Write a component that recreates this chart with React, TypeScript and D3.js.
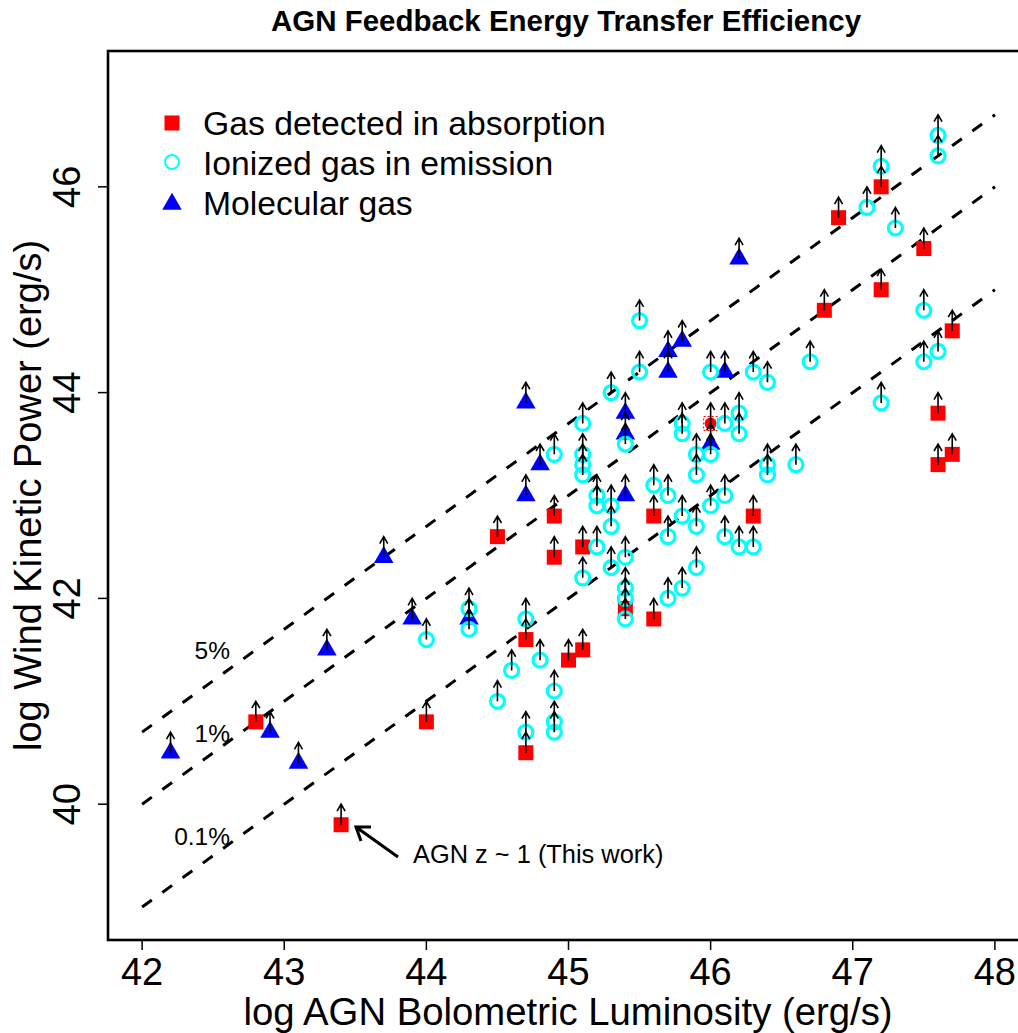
import React from "react";
import * as d3 from "d3";

// ---- Data ----
const absX = [42.8, 43.4, 44.0, 44.5, 44.9, 44.9, 44.7, 44.7, 45.0, 45.1, 45.1, 45.4, 45.6, 45.6, 46.3, 46.8, 46.9, 47.2, 47.2, 47.5, 47.7, 47.6, 47.6, 47.7];
const absY = [40.8, 39.8, 40.8, 42.6, 42.8, 42.4, 41.6, 40.5, 41.4, 41.5, 42.5, 41.9, 41.8, 42.8, 42.8, 44.8, 45.7, 46.0, 45.0, 45.4, 44.6, 43.8, 43.3, 43.4];
const absDotX = [46.0];
const absDotY = [43.7];

const molX = [42.2, 42.9, 43.1, 43.3, 43.7, 43.9, 44.3, 44.7, 44.7, 44.8, 45.4, 45.4, 45.4, 45.7, 45.7, 45.8, 46.1, 46.0, 46.2];
const molY = [40.5, 40.7, 40.4, 41.5, 42.4, 41.8, 41.8, 43.9, 43.0, 43.3, 43.8, 43.6, 43.0, 44.4, 44.2, 44.5, 44.2, 43.5, 45.3];

const ionX = [
  44.0, 44.3, 44.3, 44.7, 44.6, 44.8, 44.5, 44.9, 44.7, 44.9, 44.9,
  45.1, 45.2, 45.3, 45.3, 45.4, 45.4, 45.4, 45.4,
  45.7, 45.8, 45.9, 45.7, 45.9, 45.8, 46.1, 46.2, 46.3,
  45.2, 45.2, 45.3,
  45.5, 45.5, 45.3, 44.9, 45.1, 45.1, 45.1, 45.1, 45.4, 45.6, 45.7, 45.8, 45.8, 45.9, 45.9, 46.0, 46.0, 46.1, 46.1, 46.0, 46.2, 46.2,
  46.3, 46.4, 46.7, 46.4, 46.4, 46.6,
  47.2, 47.5, 47.6, 47.5,
  47.2, 47.1, 47.3, 47.6, 47.6,
];
const ionY = [
  41.6, 41.9, 41.7, 41.8, 41.3, 41.4, 41.0, 41.1, 40.7, 40.8, 40.7,
  42.2, 42.5, 42.7, 42.3, 42.4, 42.1, 42.0, 41.8,
  42.0, 42.1, 42.3, 42.6, 42.7, 42.8, 42.6, 42.5, 42.5,
  43.0, 42.9, 42.9,
  44.7, 44.2, 44.0, 43.4, 43.7, 43.4, 43.3, 43.2, 43.5, 43.1, 43.0, 43.7, 43.6, 43.4, 43.2, 44.2, 43.4, 43.7, 43.0, 42.9, 43.8, 43.6,
  44.2, 44.1, 44.3, 43.3, 43.2, 43.3,
  43.9, 44.3, 44.4, 44.8,
  46.2, 45.8, 45.6, 46.5, 46.3,
];

const xTicks = [42, 43, 44, 45, 46, 47, 48];
const yTicks = [40, 42, 44, 46];
const effLabels = ["5%", "1%", "0.1%"];
const effOffsets = [-1.3, -2, -3]; // log(eff)
const lineX = [42, 48];
const legendLabels = ["Gas detected in absorption", "Ionized gas in emission", "Molecular gas"];
const arrowLen = 0.2; // data units (lower limits)

const FONT = "'Liberation Sans', Arial, Helvetica, sans-serif";
const RED = "#FF0000";
const CYAN = "#00FFFF";
const BLUE = "#0000FF";

const W = 1018;
const H = 1033;
const L = 108, R = 1029, T = 51, B = 940;

function triPath(cx: number, cy: number, s: number) {
  const r = 0.866 * s;
  return `M${cx},${cy - s}L${cx + r},${cy + s / 2}L${cx - r},${cy + s / 2}Z`;
}

export default function App() {
  const x = d3.scaleLinear().domain([41.76, 48.24]).range([L, R]);
  const y = d3.scaleLinear().domain([38.68, 47.32]).range([B, T]);

  const allX = [...absX, ...absDotX, ...molX, ...ionX];
  const allY = [...absY, ...absDotY, ...molY, ...ionY];

  const line = d3.line<number>().x((d) => x(d[0])).y((d) => y(d[1]));

  const headLen = 8;
  const ang = Math.PI / 6;

  return (
    <svg
      width={W}
      height={H}
      style={{ position: "absolute", left: 0, top: 0, background: "#fff" }}
      fontFamily={FONT}
    >
      <rect x={0} y={0} width={W} height={H} fill="#fff" />
      {/* Title */}
      <text x={566} y={31} textAnchor="middle" fontWeight="bold" fontSize={29.5}>
        AGN Feedback Energy Transfer Efficiency
      </text>

      {/* efficiency lines */}
      {effOffsets.map((o, i) => (
        <path
          key={"l" + i}
          d={line(lineX.map((v) => [v, v + o]) as any) || ""}
          stroke="#000"
          strokeWidth={3}
          strokeDasharray="12 13"
          fill="none"
        />
      ))}
      {effLabels.map((t, i) => (
        <text key={"el" + i} x={230} y={[659, 742, 845][i]} textAnchor="end" fontSize={24.5}>
          {t}
        </text>
      ))}

      {/* absorption squares */}
      {absX.map((v, i) => (
        <rect key={"a" + i} x={x(v) - 7.5} y={y(absY[i]) - 7.5} width={15} height={15} fill={RED} />
      ))}
      {absDotX.map((v, i) => (
        <g key={"ad" + i}>
          <rect x={x(v) - 7} y={y(absDotY[i]) - 7} width={14} height={14} fill="none" stroke={RED} strokeWidth={1} strokeDasharray="2 2" />
          <circle cx={x(v)} cy={y(absDotY[i])} r={6} fill={RED} />
        </g>
      ))}
      {/* molecular triangles */}
      {molX.map((v, i) => (
        <path key={"m" + i} d={triPath(x(v), y(molY[i]), 11.3)} fill={BLUE} />
      ))}
      {/* ionized circles */}
      {ionX.map((v, i) => (
        <circle key={"c" + i} cx={x(v)} cy={y(ionY[i])} r={7} fill="none" stroke={CYAN} strokeWidth={3.2} />
      ))}

      {/* lower-limit arrows */}
      {allX.map((v, i) => {
        const x0 = x(v);
        const y0 = y(allY[i]);
        const y1 = y(allY[i] + arrowLen);
        return (
          <path
            key={"ar" + i}
            d={`M${x0},${y0}L${x0},${y1}M${x0 - headLen * Math.sin(ang)},${y1 + headLen * Math.cos(ang)}L${x0},${y1}L${x0 + headLen * Math.sin(ang)},${y1 + headLen * Math.cos(ang)}`}
            stroke="#000"
            strokeWidth={1.6}
            fill="none"
          />
        );
      })}

      {/* annotation */}
      <path d="M398,857L356,827M371,827L356,827L361,841" stroke="#000" strokeWidth={3} fill="none" />
      <text x={413} y={863} fontSize={25.4}>AGN z ~ 1 (This work)</text>

      {/* legend */}
      <rect x={164.5} y={115.5} width={15} height={15} fill={RED} />
      <circle cx={172} cy={162} r={7} fill="none" stroke={CYAN} strokeWidth={2} />
      <path d={triPath(172, 204, 11.3)} fill={BLUE} />
      {legendLabels.map((t, i) => (
        <text key={"lg" + i} x={203} y={135 + 40 * i} fontSize={33.7}>
          {t}
        </text>
      ))}

      {/* box */}
      <rect x={L} y={T} width={R - L} height={B - T} fill="none" stroke="#000" strokeWidth={2.6} />

      {/* x axis */}
      {xTicks.map((t) => (
        <g key={"xt" + t}>
          <line x1={x(t)} x2={x(t)} y1={B} y2={B + 10} stroke="#000" strokeWidth={1.5} />
          <text x={x(t)} y={985} textAnchor="middle" fontSize={38}>
            {t}
          </text>
        </g>
      ))}
      <text x={568} y={1025} textAnchor="middle" fontSize={38.3}>
        log AGN Bolometric Luminosity (erg/s)
      </text>

      {/* y axis */}
      {yTicks.map((t) => (
        <g key={"yt" + t}>
          <line x1={L - 10} x2={L} y1={y(t)} y2={y(t)} stroke="#000" strokeWidth={1.5} />
          <text transform={`translate(80,${y(t)}) rotate(-90)`} textAnchor="middle" fontSize={38}>
            {t}
          </text>
        </g>
      ))}
      <text transform={`translate(41,${(T + B) / 2}) rotate(-90)`} textAnchor="middle" fontSize={38}>
        log Wind Kinetic Power (erg/s)
      </text>
    </svg>
  );
}
